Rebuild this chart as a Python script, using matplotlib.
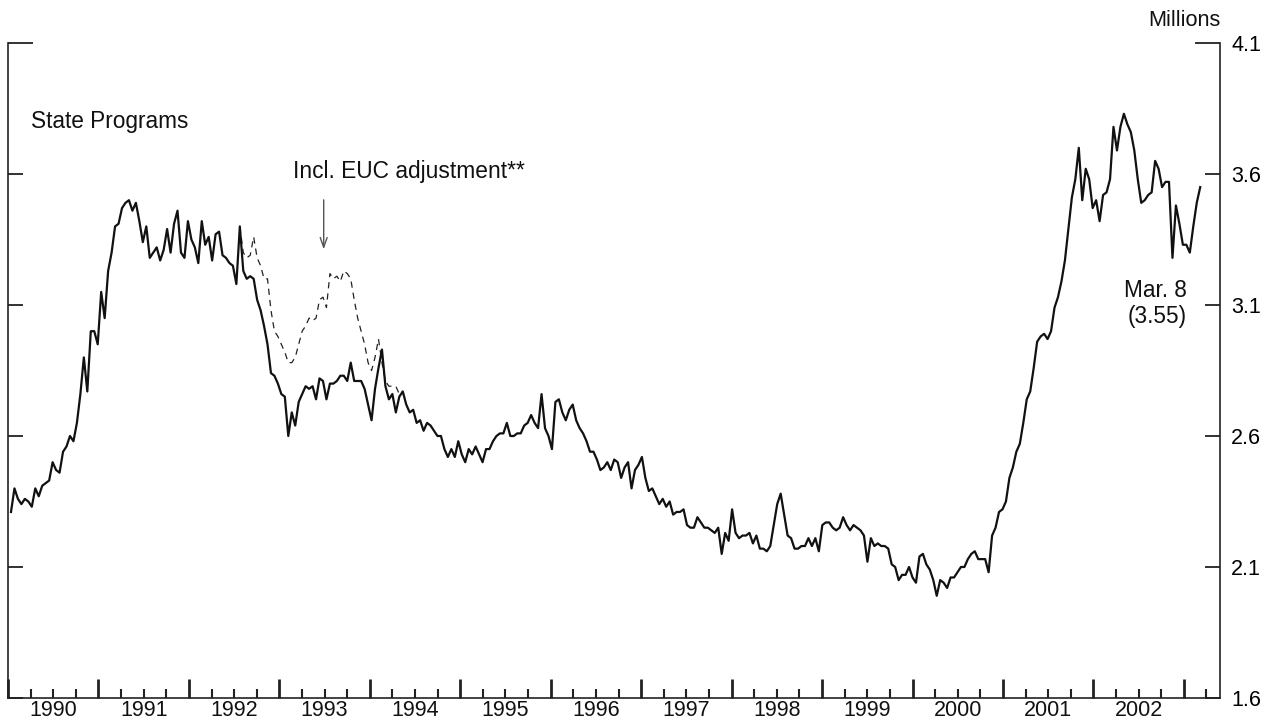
import numpy as np
import pandas as pd
import matplotlib
matplotlib.use('Agg')
import matplotlib.pyplot as plt
from matplotlib.transforms import blended_transform_factory

plt.rcParams['font.family'] = ['Liberation Sans', 'DejaVu Sans']

# insured unemployment, state programs, millions (every other week)
claims = [
    2.31, 2.40, 2.36, 2.34, 2.36, 2.35, 2.33, 2.40, 2.37, 2.41,
    2.42, 2.43, 2.50, 2.47, 2.46, 2.54, 2.56, 2.60, 2.58, 2.65,
    2.76, 2.90, 2.77, 3.00, 3.00, 2.95, 3.15, 3.05, 3.23, 3.30,
    3.40, 3.41, 3.47, 3.49, 3.50, 3.46, 3.49, 3.42, 3.34, 3.40,
    3.28, 3.30, 3.32, 3.27, 3.31, 3.39, 3.30, 3.41, 3.46, 3.30,
    3.28, 3.42, 3.35, 3.32, 3.26, 3.42, 3.33, 3.36, 3.27, 3.37,
    3.38, 3.29, 3.28, 3.26, 3.25, 3.18, 3.40, 3.23, 3.20, 3.21,
    3.20, 3.12, 3.08, 3.02, 2.95, 2.84, 2.83, 2.80, 2.76, 2.75,
    2.60, 2.69, 2.64, 2.73, 2.76, 2.79, 2.78, 2.79, 2.74, 2.82,
    2.81, 2.74, 2.80, 2.80, 2.81, 2.83, 2.83, 2.81, 2.88, 2.81,
    2.81, 2.81, 2.78, 2.72, 2.66, 2.78, 2.86, 2.93, 2.79, 2.74,
    2.76, 2.69, 2.75, 2.77, 2.72, 2.69, 2.70, 2.65, 2.66, 2.62,
    2.65, 2.64, 2.62, 2.60, 2.60, 2.55, 2.52, 2.55, 2.52, 2.58,
    2.53, 2.50, 2.55, 2.53, 2.56, 2.53, 2.50, 2.55, 2.55, 2.58,
    2.60, 2.61, 2.61, 2.65, 2.60, 2.60, 2.61, 2.61, 2.64, 2.65,
    2.68, 2.65, 2.63, 2.76, 2.63, 2.60, 2.55, 2.73, 2.74, 2.69,
    2.66, 2.70, 2.72, 2.66, 2.63, 2.61, 2.58, 2.54, 2.54, 2.51,
    2.47, 2.48, 2.50, 2.47, 2.51, 2.50, 2.44, 2.48, 2.50, 2.40,
    2.47, 2.49, 2.52, 2.44, 2.39, 2.40, 2.37, 2.34, 2.36, 2.33,
    2.35, 2.30, 2.31, 2.31, 2.32, 2.26, 2.25, 2.25, 2.29, 2.27,
    2.25, 2.25, 2.24, 2.23, 2.25, 2.15, 2.23, 2.20, 2.32, 2.23,
    2.21, 2.22, 2.22, 2.23, 2.19, 2.22, 2.17, 2.17, 2.16, 2.18,
    2.26, 2.34, 2.38, 2.30, 2.22, 2.21, 2.17, 2.17, 2.18, 2.18,
    2.21, 2.18, 2.21, 2.16, 2.26, 2.27, 2.27, 2.25, 2.24, 2.25,
    2.29, 2.26, 2.24, 2.26, 2.25, 2.24, 2.22, 2.12, 2.21, 2.18,
    2.19, 2.18, 2.18, 2.17, 2.11, 2.10, 2.05, 2.07, 2.07, 2.10,
    2.06, 2.04, 2.14, 2.15, 2.11, 2.09, 2.05, 1.99, 2.05, 2.04,
    2.02, 2.06, 2.06, 2.08, 2.10, 2.10, 2.13, 2.15, 2.16, 2.13,
    2.13, 2.13, 2.08, 2.22, 2.25, 2.31, 2.32, 2.35, 2.44, 2.48,
    2.54, 2.57, 2.65, 2.74, 2.77, 2.86, 2.96, 2.98, 2.99, 2.97,
    3.00, 3.09, 3.13, 3.19, 3.27, 3.39, 3.51, 3.58, 3.70, 3.50,
    3.62, 3.58, 3.47, 3.50, 3.42, 3.52, 3.53, 3.58, 3.78, 3.69,
    3.78, 3.83, 3.79, 3.76, 3.69, 3.58, 3.49, 3.50, 3.52, 3.53,
    3.65, 3.62, 3.55, 3.57, 3.57, 3.28, 3.48, 3.41, 3.33, 3.33,
    3.30, 3.40, 3.49, 3.55,
]
claim_dates = pd.date_range('1990-01-13', '2003-03-08', freq='14D')

# including EUC adjustment
euc = [
    3.40, 3.30, 3.28, 3.29, 3.36, 3.28, 3.25, 3.20, 3.20, 3.08,
    3.00, 2.98, 2.95, 2.92, 2.88, 2.88, 2.90, 2.95, 3.00, 3.02,
    3.05, 3.04, 3.05, 3.12, 3.13, 3.09, 3.22, 3.20, 3.21, 3.19,
    3.23, 3.22, 3.20, 3.12, 3.05, 3.00, 2.95, 2.88, 2.85, 2.90,
    2.97, 2.88, 2.81, 2.79, 2.79, 2.79, 2.76, 2.77,
]
euc_dates = pd.date_range('1992-07-25', periods=len(euc), freq='14D')

years = list(range(1990, 2003))
y_ticks = [1.6, 2.1, 2.6, 3.1, 3.6, 4.1]


def decimal_year(d):
    return d.year + (d.dayofyear - 1) / np.where(d.is_leap_year, 366, 365)


fig = plt.figure(figsize=(12.73, 7.23), dpi=100)
ax = fig.add_axes([0.0063, 0.0346, 0.9521, 0.9059])

ax.plot(decimal_year(euc_dates), euc, color='#222222', lw=0.9, dashes=(5, 4))
ax.plot(decimal_year(claim_dates), claims, color='#111111', lw=1.6)

ax.set_xlim(1990, 2003.4)
ax.set_ylim(1.6, 4.1)

for s in ['left', 'right', 'bottom']:
    ax.spines[s].set_linewidth(1.2)
    ax.spines[s].set_color('#222222')
ax.spines['top'].set_visible(False)

ax.set_xticks(range(1990, 2004))
quarters = [y + q for y in range(1990, 2004) for q in (0.25, 0.5, 0.75) if y + q < 2003.4]
ax.set_xticks(quarters, minor=True)
ax.tick_params(axis='x', which='major', direction='in', length=14, width=2,
               color='#222222', labelbottom=False)
ax.tick_params(axis='x', which='minor', direction='in', length=6.5, width=1.5,
               color='#222222')

ax.set_yticks(y_ticks)
ax.set_yticklabels([f'{v:.1f}' for v in y_ticks])
ax.tick_params(axis='y', direction='in', length=11, width=1.3, color='#222222',
               left=True, right=True, labelleft=False, labelright=True,
               labelsize=15.5, pad=8)
top = ax.yaxis.get_major_ticks()[-1]
top.tick1line.set_markersize(18)
top.tick2line.set_markersize(18)

trans = blended_transform_factory(ax.transData, ax.transAxes)
for y in years:
    ax.text(y + 0.5, -0.0198, str(y), transform=trans, ha='center', va='center',
            fontsize=15.5, color='#111111')

ax.text(1.0, 1.035, 'Millions', transform=ax.transAxes, ha='right', va='center',
        fontsize=15.7, color='#111111')
ax.text(1990.25, 3.80, 'State Programs', ha='left', va='center', fontsize=16.3,
        color='#111111')
ax.text(1993.15, 3.608, 'Incl. EUC adjustment**', ha='left', va='center',
        fontsize=16.4, color='#111111')
ax.annotate('', xy=(1993.49, 3.302), xytext=(1993.49, 3.512),
            arrowprops=dict(arrowstyle='->,head_length=0.7,head_width=0.25',
                            color='#555555', lw=1))
ax.text(2003.035, 3.106, 'Mar. 8\n(3.55)', ha='right', va='center',
        multialignment='right', fontsize=16.3, color='#111111', linespacing=1.15)

fig.savefig('out.png', dpi=100)
